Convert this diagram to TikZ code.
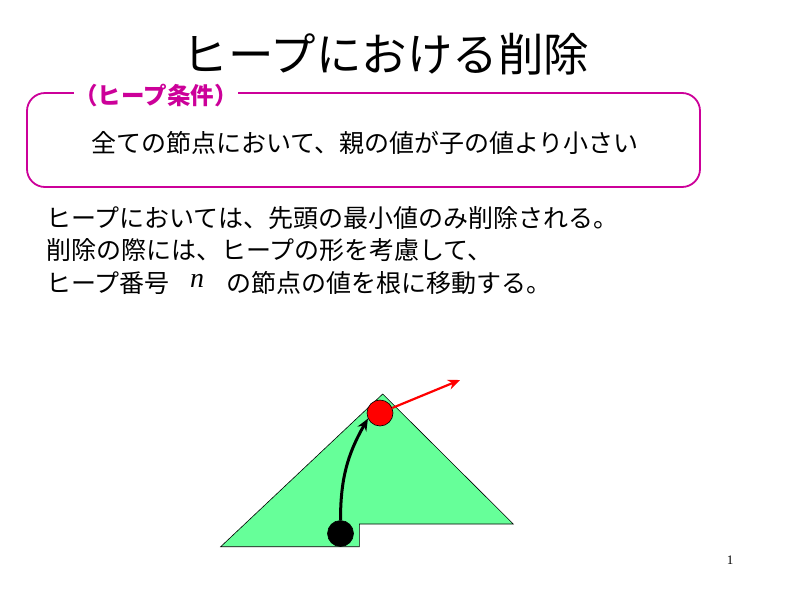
\documentclass[tikz,border=0pt]{standalone}
\usepackage{fontspec}
\setmainfont{Noto Sans CJK JP}
\newfontfamily\ser{Liberation Serif}
\usetikzlibrary{arrows.meta}
\definecolor{mag}{RGB}{204,0,153}
\definecolor{heapgreen}{RGB}{102,255,153}
\tikzset{
  bodytext/.style={anchor=west,inner sep=0pt,font=\fontsize{25}{29}\selectfont},
  dot/.style={circle,draw=black,line width=0.6pt,minimum size=26pt,inner sep=0pt},
}
\begin{document}
\begin{tikzpicture}[x=1pt,y=-1pt]
\useasboundingbox (0,0) rectangle (800,600);
% title
\node (title) at (386,54) {\fontsize{45.5}{50}\selectfont ヒープにおける削除};
% condition box
\draw[mag,line width=1.8pt,rounded corners=18pt] (27,93) rectangle (700,187);
\node (lab) [fill=white,text=mag,inner xsep=0pt,inner ysep=2pt,font=\fontsize{23.5}{26}\selectfont\bfseries] at (156,96) {（ヒープ条件）};
\node (cond) at (365,143) {\fontsize{25}{29}\selectfont 全ての節点において、親の値が子の値より小さい};
% body text
\node (l1) [bodytext] at (46,218) {ヒープにおいては、先頭の最小値のみ削除される。};
\node (l2) [bodytext] at (46,250) {削除の際には、ヒープの形を考慮して、};
\node (l3) [bodytext] at (46,283) {ヒープ番号};
\node (nn) [inner sep=0pt] at (197,281) {\ser\itshape\fontsize{28}{30}\selectfont n};
\node (l3b) [bodytext] at (226,283) {の節点の値を根に移動する。};
% heap shape
\draw[fill=heapgreen,draw=black,line width=0.6pt] (382.7,394) -- (513.3,524) -- (359.3,524) -- (359.3,546.7) -- (220.7,546.7) -- cycle;
\node (red) [dot,fill=red] at (380,413) {};
\node (blk) [dot,fill=black] at (340.5,533.5) {};
\coordinate (rt) at (460,380);
\draw[red,line width=2.2pt,-{Stealth[length=12pt,width=10pt]}] (red) -- (rt);
\draw[black,line width=3pt,-{Stealth[length=12pt,width=10pt]}] (blk.north) to[out=90,in=240] (red.205);
% page number
\node (pg) at (730,560) {\ser\fontsize{13}{15}\selectfont 1};
\end{tikzpicture}
\end{document}
